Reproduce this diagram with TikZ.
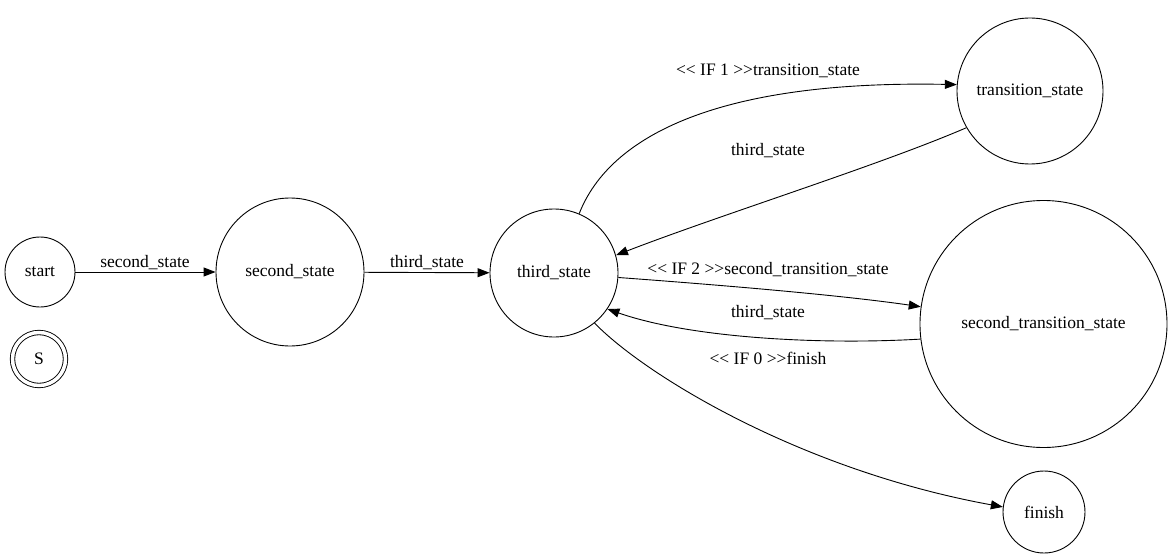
\documentclass[tikz,border=0pt]{standalone}
\usepackage{fontspec}
\setmainfont{Liberation Serif}
\usetikzlibrary{arrows.meta}
\begin{document}
\begin{tikzpicture}[x=1pt,y=-1pt,
  state/.style={draw,circle,inner sep=0pt,line width=0.9pt,font=\fontsize{17.5}{20}\selectfont},
  accept/.style={state,double,double distance=3.5pt},
  edge/.style={draw,line width=0.9pt,-{Triangle[length=12pt,width=9pt]}},
  lbl/.style={font=\fontsize{17.5}{20}\selectfont,inner sep=0pt}]
\useasboundingbox (0,0) rectangle (1173,559);

% states
\node[state,minimum size=70pt]  (start)  at (40,272)  {start};
\node[accept,minimum size=53pt] (S)      at (39,359)  {S};
\node[state,minimum size=148pt] (second) at (290,272) {second\_state};
\node[state,minimum size=128pt] (third)  at (554,273) {third\_state};
\node[state,minimum size=146pt] (trans)  at (1030,91) {transition\_state};
\node[state,minimum size=247pt] (strans) at (1043.5,324) {second\_transition\_state};
\node[state,minimum size=82pt]  (finish) at (1044,512) {finish};

% transitions
\draw[edge] (start) -- (second);
\draw[edge] (second) -- (third);
\draw[edge] (third.67) .. controls (610,135) and (720,80) .. (trans.175);
\draw[edge] (trans.210) .. controls (880,165) and (720,215) .. (third.16);
\draw[edge] (third.-4) .. controls (720,285) and (840,295) .. (strans.172);
\draw[edge] (strans.187) .. controls (820,345) and (690,338) .. (third.-34);
\draw[edge] (third.-51) .. controls (645,375) and (800,470) .. (finish.173);

% labels
\node[lbl] (l1) at (145,263) {second\_state};
\node[lbl] (l2) at (427,263) {third\_state};
\node[lbl] (l3) at (768,71)  {<\kern0pt< IF 1 >\kern0pt>transition\_state};
\node[lbl] (l4) at (768,151) {third\_state};
\node[lbl] (l5) at (768,270) {<\kern0pt< IF 2 >\kern0pt>second\_transition\_state};
\node[lbl] (l6) at (768,313) {third\_state};
\node[lbl] (l7) at (768,358) {<\kern0pt< IF 0 >\kern0pt>finish};
\end{tikzpicture}
\end{document}
